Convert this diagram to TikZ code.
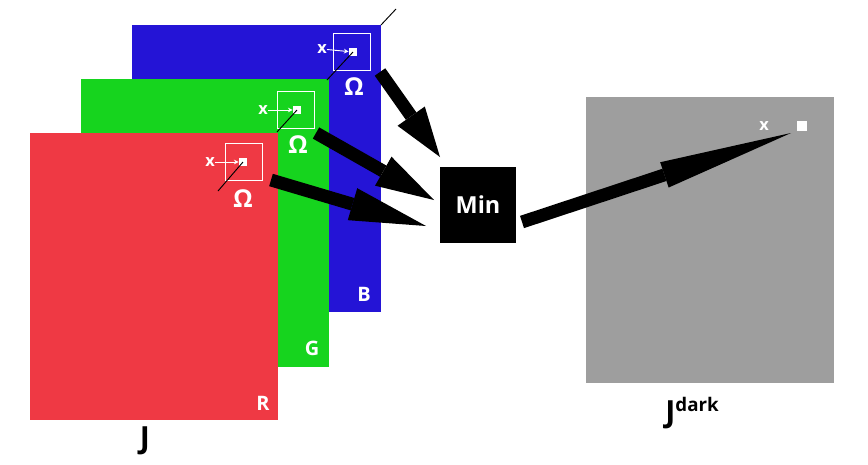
\documentclass[tikz,border=0pt]{standalone}
\usepackage{fontspec}
\setmainfont{Open Sans}
\usetikzlibrary{arrows.meta,positioning}
\definecolor{planeR}{RGB}{239,57,68}
\definecolor{planeG}{RGB}{22,212,30}
\definecolor{planeB}{RGB}{36,20,214}
\definecolor{darkgray}{RGB}{158,158,158}

\begin{document}
\begin{tikzpicture}[x=0.03cm,y=-0.03cm,% one unit is one pixel of the figure
      every node/.style={
        font=\bfseries,   % all text is bold sans
        inner sep=0pt
      },
      plane/.style={rectangle,minimum width=7.44cm,minimum height=8.61cm},
      window/.style={rectangle,draw=white,line width=1.4pt,minimum size=1.1cm},
      pixel/.style={rectangle,fill=white,minimum size=0.25cm},
      chan/.style={white,font=\bfseries\fontsize{17}{17}\selectfont},
      omega/.style={white,font=\bfseries\fontsize{21}{21}\selectfont},
      xlab/.style={white,font=\bfseries\fontsize{14}{14}\selectfont},
      bigarrow/.style={line width=11pt,-{Triangle[length=#1,width=1cm,line width=0pt]}},
      ray/.style={draw=black,line width=0.8pt}
    ]
    \useasboundingbox (0,0) rectangle (868,464);
    % the three colour planes of J
    \node[plane,fill=planeB](B) at (256.5,168.5){};
    \node[plane,fill=planeG](G) at (205,223){};
    \node[plane,fill=planeR](R) at (154,276){};
    \node[chan](Blab) at (364,294){B};
    \node[chan](Glab) at (312,348){G};
    \node[chan](Rlab) at (263,403){R};
    \node[font=\bfseries\fontsize{26}{26}\selectfont](J) at (145,441){J};
    % local windows
    \node[window](WB) at (352,52){};
    \node[pixel](PB) at (353,52){};
    \node[xlab](XB) at (322,49){x};
    \node[omega](OB) at (354,87){Ω};
    \node[window](WG) at (296,110){};
    \node[pixel](PG) at (297,110){};
    \node[xlab](XG) at (263,110){x};
    \node[omega](OG) at (298,145){Ω};
    \node[window](WR) at (244,162){};
    \node[pixel](PR) at (243,162){};
    \node[xlab](XR) at (210,162){x};
    \node[omega](OR) at (243,199){Ω};
    \coordinate (CB) at (327,80);
    \coordinate (CG) at (277,132);
    \coordinate (CR) at (218,191);
    \coordinate (T1) at (381,25);
    \coordinate (T2) at (396,9);
    \path[ray]
    (PB.center) edge (CB)
    (PG.center) edge (CG)
    (PR.center) edge (CR)
    (T1) edge (T2)
    ;
    \path[white,line width=0.8pt,-{Stealth[length=4pt,width=4pt]}]
    (XB) edge (PB)
    (XG) edge (PG)
    (XR) edge (PR)
    ;
    % minimum operator
    \node[rectangle,fill=black,minimum size=2.28cm,text=white,
          font=\bfseries\fontsize{20}{20}\selectfont](Min) at (478,205){Min};
    % dark channel
    \node[plane,fill=darkgray,minimum height=8.58cm](D) at (709.5,240){};
    \node[pixel,minimum size=0.3cm](PD) at (802,126){};
    \node[xlab](XD) at (764,126){x};
    \node(Jd) at (692,413){\fontsize{26}{26}\selectfont J\raisebox{9pt}{\fontsize{16}{16}\selectfont dark}};
    % arrows
    \coordinate (SB) at (380,72);
    \coordinate (SG) at (316,133);
    \coordinate (SR) at (271,180);
    \coordinate (SM) at (522,222);
    \coordinate (TB) at (440,157);
    \coordinate (TG) at (434,200);
    \coordinate (TR) at (426,226);
    \coordinate (TD) at (791,133);
    \path[bigarrow=1.5cm] (SB) edge (TB);
    \path[bigarrow=1.75cm] (SG) edge (TG);
    \path[bigarrow=2.3cm] (SR) edge (TR);
    \draw[line width=11pt,-{Triangle[length=4cm,width=0.8cm,line width=0pt]}] (SM) -- (TD);
  \end{tikzpicture}
\end{document}
